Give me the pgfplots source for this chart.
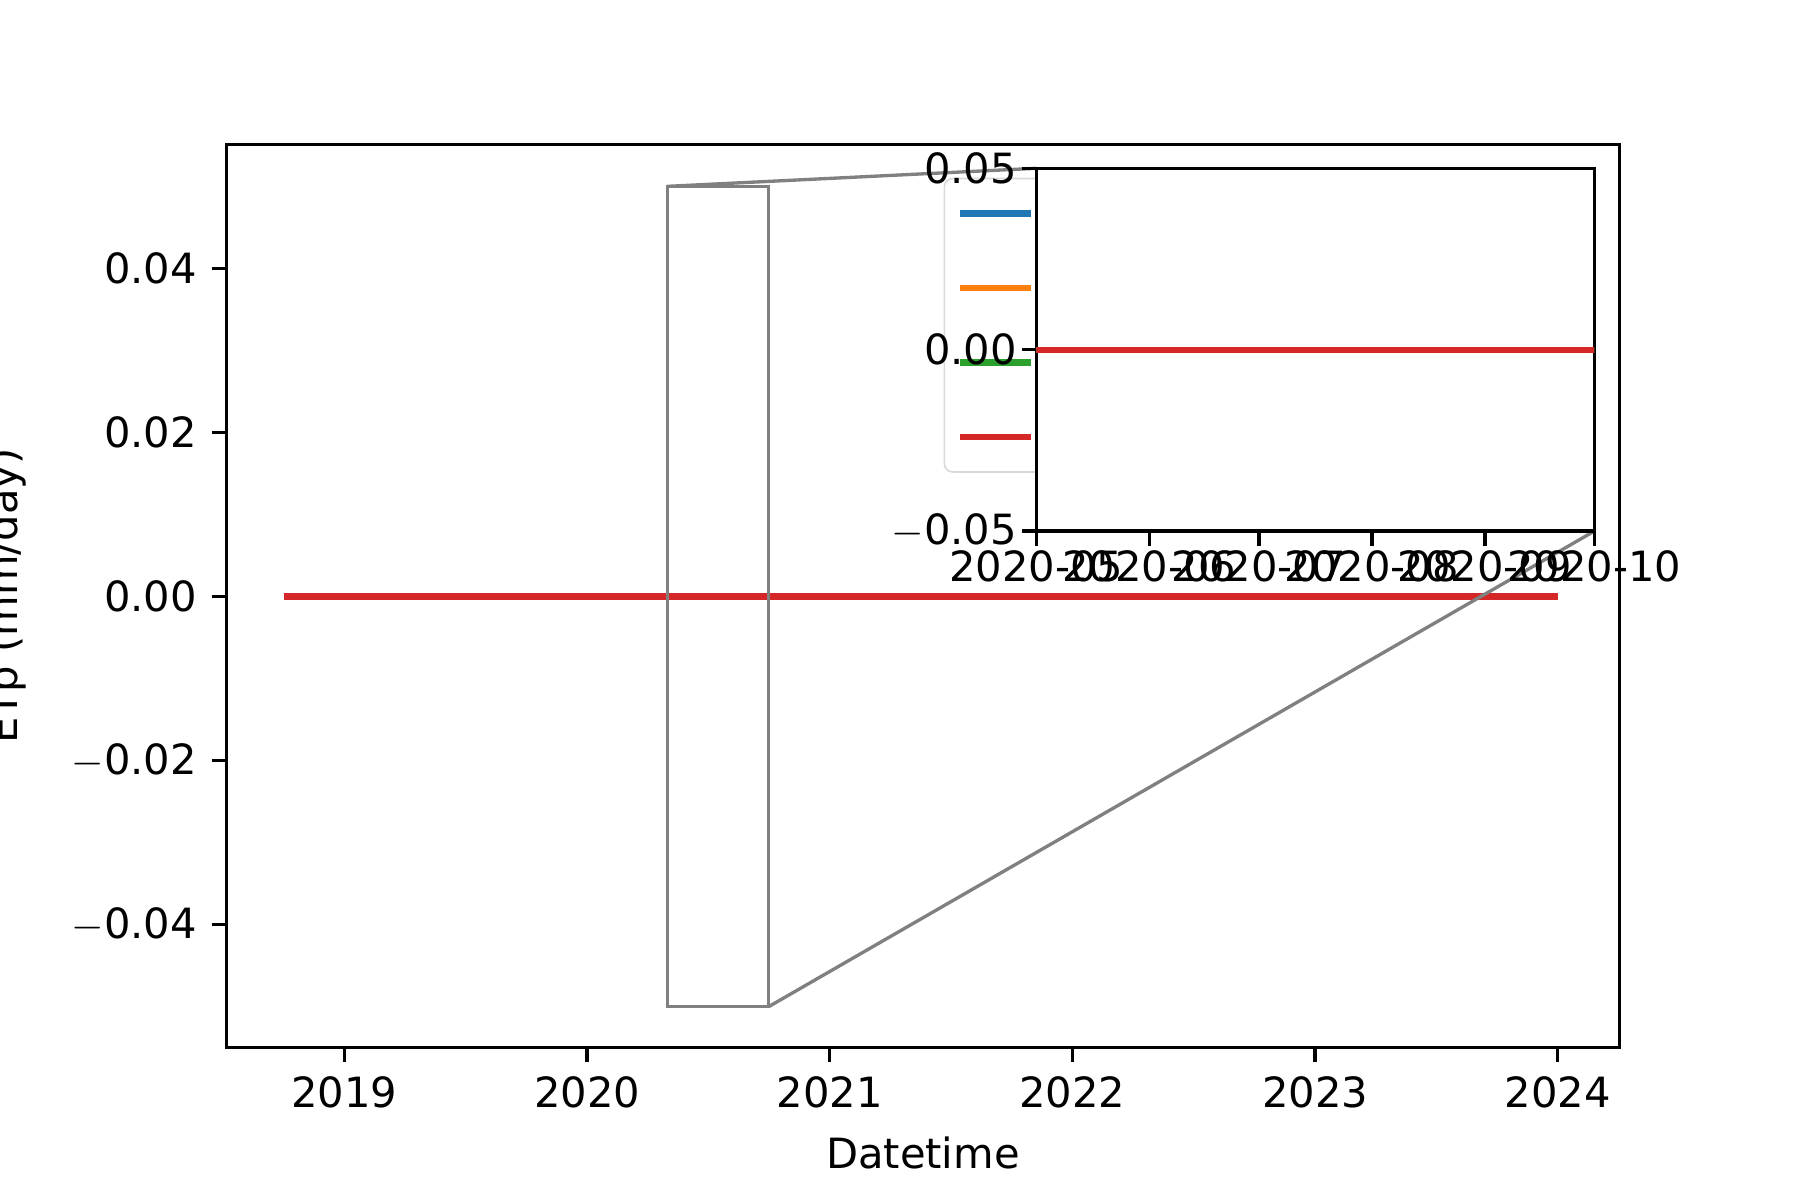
\documentclass[border=0pt]{standalone}
\usepackage{pgfplots}
\pgfplotsset{compat=1.18}
\usepackage{fontspec}
\setmainfont{DejaVu Sans}
\definecolor{tb}{HTML}{1F77B4}
\definecolor{to}{HTML}{FF7F0E}
\definecolor{tg}{HTML}{2CA02C}
\definecolor{tr}{HTML}{D62728}
\begin{document}
\fontsize{10}{12}\selectfont
\begin{tikzpicture}
\useasboundingbox (-54.3pt,-36.4pt) rectangle (377.8pt,251.5pt);
\begin{axis}[at={(0,0)},anchor=south west,scale only axis,width=334.5pt,height=216.8pt,
 xmin=2018.513,xmax=2024.255,ymin=-0.055,ymax=0.0551,
 xtick={2019,2020,2021,2022,2023,2024},
 xticklabels={2019,2020,2021,2022,2023,2024},
 ytick={-0.04,-0.02,0,0.02,0.04},
 yticklabels={$-$0.04,$-$0.02,0.00,0.02,0.04},
 scaled y ticks=false,
 tick align=outside,major tick length=3.5pt,axis line style={line width=0.8pt},
 every tick/.style={black,line width=0.8pt},
 xtick pos=bottom,ytick pos=left,
 xlabel={Datetime},ylabel={ETp (mm/day)},
 ylabel style={at={(axis description cs:-0.158,0.5)},anchor=center},
 legend style={at={(172.2pt,138pt)},anchor=south west,draw=black!15,rounded corners=2pt,row sep=5pt},
 legend cell align=left]
\addplot[tb,line width=1.5pt] coordinates {(2018.75,0) (2024,0)};
\addplot[to,line width=1.5pt] coordinates {(2018.75,0) (2024,0)};
\addplot[tg,line width=1.5pt] coordinates {(2018.75,0) (2024,0)};
\addplot[tr,line width=1.5pt] coordinates {(2018.75,0) (2024,0)};
\legend{ETp 1,ETp 2,ETp 3,ETp 4}
\draw[gray,line width=0.8pt] (axis cs:2020.3306,-0.05) rectangle (axis cs:2020.7486,0.05);
\draw[gray,line width=0.8pt] (axis cs:2020.3306,0.05) -- (axis cs:2021.852,0.0522);
\draw[gray,line width=0.8pt] (axis cs:2020.7486,-0.05) -- (axis cs:2024.151,0.00797);
\end{axis}
\begin{axis}[at={(194.5pt,124.0pt)},anchor=south west,scale only axis,width=133.9pt,height=87.1pt,
 axis background/.style={fill=white},
 xmin=2020.3306,xmax=2020.7486,ymin=-0.05,ymax=0.05,
 xtick={2020.3306,2020.4153,2020.4973,2020.5820,2020.6667,2020.7486},
 xticklabels={2020-05,2020-06,2020-07,2020-08,2020-09,2020-10},
 ytick={-0.05,0,0.05},
 yticklabels={$-$0.05,0.00,0.05},
 scaled y ticks=false,scaled x ticks=false,
 tick align=outside,major tick length=3.5pt,axis line style={line width=0.8pt},
 every tick/.style={black,line width=0.8pt},
 xtick pos=bottom,ytick pos=left,
 xticklabel style={inner sep=1pt},yticklabel style={inner sep=1pt}]
\addplot[tb,line width=1.5pt] coordinates {(2018.75,0) (2024,0)};
\addplot[to,line width=1.5pt] coordinates {(2018.75,0) (2024,0)};
\addplot[tg,line width=1.5pt] coordinates {(2018.75,0) (2024,0)};
\addplot[tr,line width=1.5pt] coordinates {(2018.75,0) (2024,0)};
\end{axis}
\end{tikzpicture}
\end{document}
